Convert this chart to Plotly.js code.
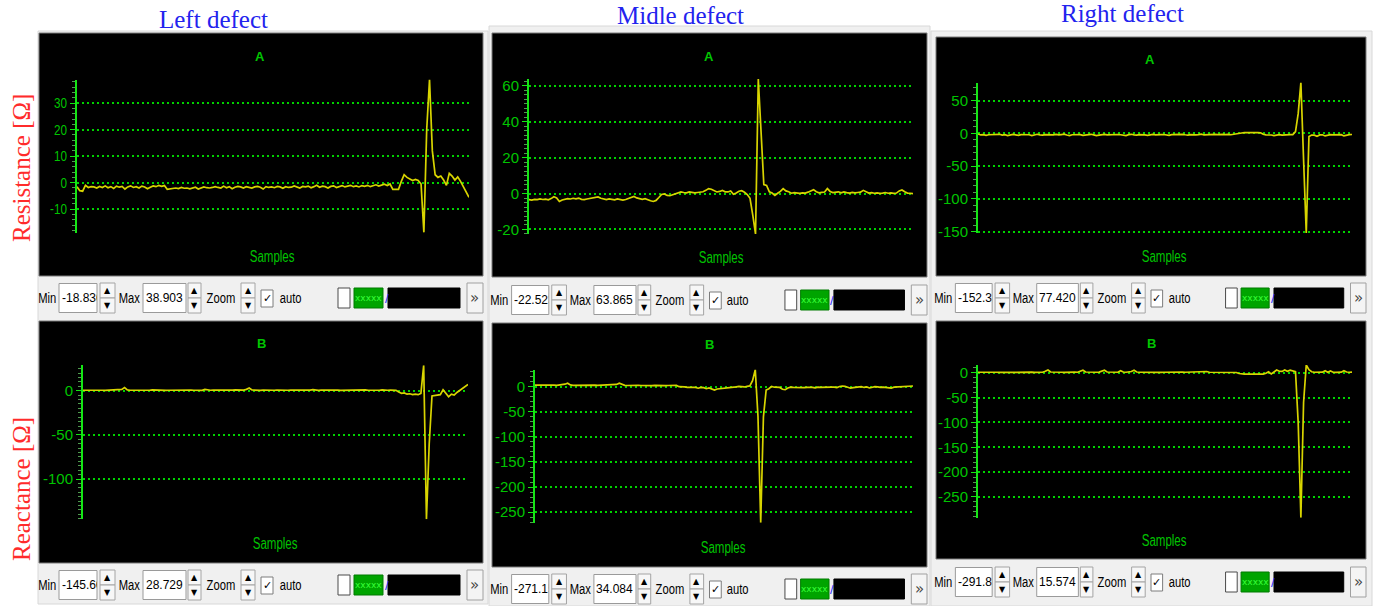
<!DOCTYPE html>
<html><head><meta charset="utf-8">
<script src="https://cdn.plot.ly/plotly-3.0.1.min.js"></script>
<style>html,body{margin:0;padding:0;background:#fff;}#chart{width:1380px;height:606px;}</style>
</head><body><div id="chart"></div>
<script>
// ---------------- data ----------------
const columnTitles = ['Left defect', 'Midle defect', 'Right defect'];
const rowTitles = ['Resistance [Ω]', 'Reactance [Ω]'];
const panelNames = ['A', 'B'];
const xLabel = 'Samples';
const controlLabels = ['Min', 'Max', 'Zoom', 'auto'];

const leftResistance = [
 -1.5,-3.0,-3.2,-1.0,-1.8,-1.5,-1.6,-2.0,-1.4,-1.8,
 -1.2,-1.9,-1.5,-2.2,-1.3,-1.7,-1.4,-2.4,-1.6,-1.2,
 -1.8,-1.5,-2.0,-1.3,-1.6,-2.3,-1.7,-1.2,-1.5,-1.0,
 -1.4,-1.1,-2.5,-2.4,-2.3,-2.0,-2.2,-1.8,-2.1,-2.0,
 -2.3,-2.0,-1.7,-2.4,-2.1,-1.6,-1.9,-2.0,-1.8,-1.5,
 -1.8,-2.0,-1.3,-1.9,-1.5,-2.3,-1.7,-1.4,-1.6,-2.0,
 -1.5,-1.7,-2.0,-1.6,-1.4,-1.7,-2.4,-1.5,-1.8,-1.6,
 -1.9,-1.4,-1.6,-2.1,-1.5,-1.8,-1.7,-1.2,-1.6,-2.0,
 -1.4,-1.6,-1.3,-1.9,-1.5,-1.0,-1.7,-1.3,-1.5,-2.0,
 -1.4,-1.2,-1.8,-1.5,-1.1,-1.6,-1.3,-1.0,-1.5,-1.2,
 -1.6,-1.1,-1.4,-1.0,-1.5,-1.2,-0.8,-1.3,-1.0,-0.6,
 -1.1,-0.5,-2.5,-2.5,-2.5,0.5,3.0,2.0,1.5,0.8,
 1.2,0.8,-0.5,-18.836,20.0,38.903,12.0,3.0,2.0,2.5,
 1.0,-1.0,3.5,2.5,1.0,2.2,0.5,-1.5,-3.5,-5.5
];
const leftReactance = [
 0.5,0.6,0.4,0.7,0.5,0.6,0.8,0.5,0.4,0.6,
 0.7,0.5,0.6,0.8,1.5,3.5,0.8,0.5,0.4,0.6,
 0.5,0.7,0.6,0.4,0.5,0.8,0.6,0.5,0.7,0.6,
 0.4,0.5,0.6,0.8,0.5,0.4,0.6,0.7,0.5,0.6,
 0.5,0.7,0.6,0.4,1.5,0.6,0.5,0.7,0.6,0.5,
 0.4,0.6,0.7,0.5,0.6,0.8,0.5,0.6,0.7,1.5,
 3.0,0.8,0.5,0.6,0.4,0.7,0.5,0.6,0.8,0.5,
 0.6,0.4,0.7,0.6,0.5,0.6,0.8,0.5,0.4,0.6,
 0.7,0.5,0.6,1.2,0.5,0.4,0.6,0.7,0.5,0.6,
 0.5,0.7,0.6,0.4,0.5,0.8,0.6,0.5,0.7,0.6,
 0.5,0.6,0.8,0.5,0.4,0.6,0.7,0.5,1.0,0.6,
 0.5,0.7,0.6,0.4,-1.5,-3.0,-2.5,-4.0,-3.5,-4.5,
 -4.0,-4.5,-3.0,28.729,-145.6,-60.0,-6.0,-5.5,-5.0,-4.5,
 1.0,-3.0,-7.0,-4.0,-5.0,-2.0,0.0,2.5,5.0,7.0
];
const midResistance = [
 -3.3,-3.6,-3.2,-3.4,-3.0,-3.3,-3.1,-3.5,-2.8,-1.8,
 -2.4,-4.4,-3.6,-3.2,-2.8,-3.0,-2.6,-2.9,-2.5,-3.2,
 -3.4,-3.0,-2.8,-2.4,-2.0,-1.9,-2.6,-3.0,-3.4,-3.0,
 -3.2,-3.5,-3.0,-3.2,-3.6,-3.3,-2.8,-2.2,-1.6,-2.4,
 -3.0,-3.2,-2.8,-3.5,-4.0,-4.4,-3.8,-2.2,-0.5,-0.2,
 -1.0,-1.2,-0.6,-0.4,0.2,0.9,0.6,0.4,0.9,0.5,
 0.4,0.6,0.8,1.0,1.8,2.8,2.4,1.6,0.9,1.2,
 1.8,1.0,0.9,1.5,-0.4,0.3,1.3,1.6,0.8,-0.5,
 -2.6,-12.0,-22.523,63.865,30.0,5.0,4.5,1.0,0.3,-1.0,
 0.2,1.2,2.8,1.5,1.0,0.2,0.5,0.3,0.1,0.4,
 0.3,0.8,1.4,2.2,1.0,0.4,0.7,0.9,2.8,1.2,
 0.6,0.8,1.0,0.4,0.9,0.5,0.3,0.7,0.4,0.6,
 0.8,1.8,0.9,0.3,0.5,0.2,0.4,0.1,0.3,0.6,
 0.2,0.4,0.1,0.3,1.5,2.0,1.0,0.3,0.2,0.0
];
const midReactance = [
 3.0,3.2,2.8,3.1,3.3,2.9,3.0,3.2,2.7,3.0,
 3.5,5.0,7.0,3.5,2.8,3.0,2.6,2.9,3.1,2.7,
 2.5,2.9,3.0,2.6,2.8,3.1,2.7,2.5,2.9,3.0,
 4.5,7.0,4.0,2.6,2.4,2.8,2.5,2.2,2.6,2.4,
 2.0,2.4,2.6,2.2,2.5,2.1,2.3,2.6,2.2,2.4,
 2.0,2.3,2.5,0.0,-1.0,-0.5,-1.2,-0.8,-1.0,-1.5,
 -3.0,-1.5,-2.0,-4.0,-2.5,-4.0,-6.6,-4.5,-4.0,-3.5,
 -4.0,-3.0,-2.0,-1.5,-0.5,0.5,0.2,-0.5,0.8,1.5,
 12.0,34.084,-60.0,-271.15,-60.0,-6.6,-4.0,0.5,-1.0,-2.0,
 -1.5,-5.0,-6.0,-2.5,-1.0,-1.5,-2.0,-1.0,-1.5,-2.0,
 -1.2,-0.8,-1.5,-2.5,-1.0,-1.5,-1.0,-0.5,-1.2,-0.8,
 -1.0,-1.6,0.5,1.4,0.8,-0.5,-3.0,-2.0,-1.0,-0.5,
 0.0,-1.5,-0.5,-2.5,-1.0,0.0,-0.5,-1.5,-0.8,-1.2,
 -2.0,-3.0,-1.0,-0.5,-1.5,-1.0,0.0,0.5,1.0,1.4
];
const rightResistance = [
 -1.0,-2.5,-2.0,-3.0,-2.2,-1.8,-2.5,-2.0,-1.5,-2.8,
 -2.0,-3.5,-2.2,-1.6,-2.4,-3.2,-2.0,-1.8,-2.6,-2.2,
 -3.4,-2.0,-1.5,-2.3,-2.8,-1.9,-2.2,-3.0,-2.4,-1.7,
 -2.5,-2.0,-1.4,-2.6,-3.6,-2.2,-1.8,-2.4,-2.0,-3.2,
 -2.6,-2.0,-1.5,-2.3,-3.4,-2.8,-2.0,-1.6,-2.5,-2.2,
 -3.0,-2.4,-1.8,-2.2,-2.6,-3.4,-2.0,-1.5,-2.4,-2.8,
 -2.0,-1.7,-2.5,-3.0,-2.2,-1.6,-2.3,-2.7,-2.0,-1.8,
 -2.6,-3.2,-2.1,-1.7,-2.4,-2.0,-1.5,-2.2,-2.8,-2.0,
 -1.6,-2.3,-2.0,-1.4,-2.5,-2.1,-1.8,-2.2,-1.5,-2.0,
 -2.4,-1.7,-2.0,-1.5,-2.2,-1.8,-1.2,-0.5,0.5,1.0,
 1.2,1.0,1.1,1.0,1.2,0.8,-1.5,-2.4,-2.0,-2.6,
 -3.5,-2.2,-2.0,-2.8,-2.4,-1.5,-2.0,-2.0,2.5,30.0,
 77.42,-40.0,-152.35,-5.0,-2.6,-2.8,-4.5,-2.5,-2.2,-4.0,
 -2.4,-2.0,-2.5,-2.2,-2.8,-2.0,-4.0,-2.5,-2.0,-1.8
];
const rightReactance = [
 1.0,1.2,0.8,1.0,1.1,0.9,1.2,1.0,0.8,1.1,
 1.0,0.9,1.2,1.0,0.8,1.1,1.0,1.2,0.9,1.0,
 1.1,0.8,1.0,1.2,1.0,3.0,5.4,1.5,1.0,0.9,
 1.1,1.0,0.8,1.2,1.0,0.9,1.1,1.0,3.0,5.0,
 1.5,1.0,0.8,1.1,1.0,1.2,2.5,5.0,1.5,1.0,
 0.9,1.2,1.0,4.0,1.5,1.0,1.2,2.5,5.0,1.5,
 1.0,0.8,1.1,1.0,1.2,0.9,1.0,1.1,0.8,1.0,
 1.2,1.0,0.9,1.1,1.0,0.8,1.2,1.0,1.1,0.9,
 1.0,1.2,0.8,1.0,1.1,2.5,1.0,0.9,1.2,1.0,
 0.8,1.1,1.0,1.2,0.9,1.0,0.5,-1.5,-2.7,-2.7,
 -2.7,-2.7,-2.7,-2.7,-2.7,-2.7,-2.7,-1.0,2.0,-2.6,
 1.0,5.4,3.0,2.7,5.4,3.0,5.0,3.0,2.0,-100.0,
 -291.8,-60.0,15.574,6.0,2.0,1.0,1.5,1.0,1.2,4.0,
 1.0,3.5,1.0,0.8,1.0,1.2,4.0,1.5,1.0,1.2
];

// Min / Max readouts shown under each panel (also the axis ranges)
const leftResistanceMinMax  = [-18.836, 38.903];
const leftReactanceMinMax   = [-145.60, 28.729];
const midResistanceMinMax   = [-22.523, 63.865];
const midReactanceMinMax    = [-271.15, 34.084];
const rightResistanceMinMax = [-152.35, 77.420];
const rightReactanceMinMax  = [-291.80, 15.574];
const leftResistanceReadout  = ['-18.836', '38.903'];
const leftReactanceReadout   = ['-145.60', '28.729'];
const midResistanceReadout   = ['-22.523', '63.865'];
const midReactanceReadout    = ['-271.15', '34.084'];
const rightResistanceReadout = ['-152.35', '77.420'];
const rightReactanceReadout  = ['-291.80', '15.574'];

// tick values / labels
const leftResistanceTicks  = [-10, 0, 10, 20, 30];
const leftResistanceLabels = ['-10', '0', '10', '20', '30'];
const leftReactanceTicks   = [-100, -50, 0];
const leftReactanceLabels  = ['-100', '-50', '0'];
const midResistanceTicks   = [-20, 0, 20, 40, 60];
const midResistanceLabels  = ['-20', '0', '20', '40', '60'];
const midReactanceTicks    = [-250, -200, -150, -100, -50, 0];
const midReactanceLabels   = ['-250', '-200', '-150', '-100', '-50', '0'];
const rightResistanceTicks  = [-150, -100, -50, 0, 50];
const rightResistanceLabels = ['-150', '-100', '-50', '0', '50'];
const rightReactanceTicks   = [-250, -200, -150, -100, -50, 0];
const rightReactanceLabels  = ['-250', '-200', '-150', '-100', '-50', '0'];

// ---------------- drawing ----------------
const W = 1380, H = 606;
const X = p => p / W, Y = p => 1 - p / H;
const SANS = 'Liberation Sans, Arial, sans-serif';
const SYM = 'DejaVu Sans, sans-serif';
const SERIF = 'Liberation Serif, Times New Roman, serif';
const GREEN_TXT = '#00c400', AXIS_GREEN = '#14e614', GRID_GREEN = '#00d200', TRACE = '#d8d400';

const panels = [
  {y: leftResistance, mm: leftResistanceMinMax, ro: leftResistanceReadout, tv: leftResistanceTicks, tt: leftResistanceLabels, name: panelNames[0],
   box: [39, 483, 33, 276], plot: [77, 469, 79.6, 232.6], nameXY: [260, 57], sampXY: [272, 256], sc: 298, minor: 2},
  {y: leftReactance, mm: leftReactanceMinMax, ro: leftReactanceReadout, tv: leftReactanceTicks, tt: leftReactanceLabels, name: panelNames[1],
   box: [39, 483, 321, 563], plot: [83, 468, 365.3, 519.3], nameXY: [261, 343], sampXY: [275, 543], sc: 585, minor: 5},
  {y: midResistance, mm: midResistanceMinMax, ro: midResistanceReadout, tv: midResistanceTicks, tt: midResistanceLabels, name: panelNames[0],
   box: [492, 927, 33, 277], plot: [529, 913, 79.0, 234.0], nameXY: [709, 57], sampXY: [721, 257], sc: 300, minor: 2.5},
  {y: midReactance, mm: midReactanceMinMax, ro: midReactanceReadout, tv: midReactanceTicks, tt: midReactanceLabels, name: panelNames[1],
   box: [492, 927, 323, 567], plot: [535, 913, 369.6, 522.8], nameXY: [709, 345], sampXY: [723, 547], sc: 589, minor: 10},
  {y: rightResistance, mm: rightResistanceMinMax, ro: rightResistanceReadout, tv: rightResistanceTicks, tt: rightResistanceLabels, name: panelNames[0],
   box: [936, 1366, 37, 276], plot: [978, 1352, 82.6, 233.1], nameXY: [1150, 59], sampXY: [1164, 256], sc: 298, minor: 10},
  {y: rightReactance, mm: rightReactanceMinMax, ro: rightReactanceReadout, tv: rightReactanceTicks, tt: rightReactanceLabels, name: panelNames[1],
   box: [936, 1366, 321, 559], plot: [978, 1352, 365, 517.7], nameXY: [1151, 343], sampXY: [1164, 540], sc: 582, minor: 10}
];

const shapes = [], annotations = [], traces = [];
const layout = {width: W, height: H, margin: {l: 0, r: 0, t: 0, b: 0}, paper_bgcolor: '#ffffff',
  plot_bgcolor: '#000000', showlegend: false, shapes: shapes, annotations: annotations};

function rect(x0, x1, y0, y1, fill, line, lw) {
  shapes.push({type: 'rect', xref: 'paper', yref: 'paper', layer: 'below',
    x0: X(x0), x1: X(x1), y0: Y(y1), y1: Y(y0), fillcolor: fill,
    line: {color: line || fill, width: lw === undefined ? 1 : lw}});
}
function txt(x, y, t, size, color, opts, family) {
  annotations.push(Object.assign({xref: 'paper', yref: 'paper', x: X(x), y: Y(y), text: t, showarrow: false,
    xanchor: 'center', yanchor: 'middle', font: {family: family || SANS, size: size, color: color}}, opts || {}));
}
function spinner(x0, x1, c) {
  rect(x0, x1, c - 15, c, '#f7f7f7', '#a4a4a4', 1);
  rect(x0, x1, c, c + 15, '#f7f7f7', '#a4a4a4', 1);
  txt((x0 + x1) / 2, c - 7.5, '▲', 8, '#000', null, SYM);
  txt((x0 + x1) / 2, c + 7.5, '▼', 8, '#000', null, SYM);
}

// grey window frames of the three columns
rect(38, 488, 31, 604, '#f0f0f0', '#d8d8d8', 1);
rect(489, 930, 26, 606, '#f0f0f0', '#d8d8d8', 1);
rect(931, 1372, 31, 606, '#f0f0f0', '#d8d8d8', 1);

const xIdx = leftResistance.map((_, i) => i);

panels.forEach((p, k) => {
  const s = k === 0 ? '' : String(k + 1);
  rect(p.box[0], p.box[1], p.box[2], p.box[3], '#000000', '#7a7a7a', 1);
  layout['xaxis' + s] = {domain: [X(p.plot[0]), X(p.plot[1])], range: [0, xIdx.length - 1], visible: false,
    anchor: 'y' + s, fixedrange: true};
  layout['yaxis' + s] = {domain: [Y(p.plot[3]), Y(p.plot[2])], range: p.mm, anchor: 'x' + s, fixedrange: true,
    showline: true, linecolor: AXIS_GREEN, linewidth: 2, ticks: 'outside', ticklen: 5, tickwidth: 1, tickcolor: AXIS_GREEN,
    tickmode: 'array', tickvals: p.tv, ticktext: p.tt, tickfont: {family: SANS, size: 15, color: GREEN_TXT},
    showgrid: true, gridcolor: GRID_GREEN, gridwidth: 2, griddash: '2px,3px', zeroline: false,
    minor: {ticks: 'outside', ticklen: 3, tickwidth: 1, tickcolor: '#4f9a4f', dtick: p.minor, tick0: 0, showgrid: false}};
  traces.push({x: xIdx, y: p.y, xaxis: 'x' + s, yaxis: 'y' + s, type: 'scatter', mode: 'lines',
    line: {color: TRACE, width: 1.7}, hoverinfo: 'skip'});
  txt(p.nameXY[0], p.nameXY[1], '<b>' + p.name + '</b>', 13, GREEN_TXT);
  txt(p.sampXY[0], p.sampXY[1], xLabel, 16, GREEN_TXT);

  // control strip
  const bx0 = p.box[0], sc = (p.box[1] - p.box[0]) / 444, P = o => bx0 + o * sc, c = p.sc;
  const mid = (a, b) => (P(a) + P(b)) / 2;
  txt(mid(0, 16), c, controlLabels[0], 14, '#000');
  rect(P(20), P(58), c - 14.5, c + 14.5, '#ffffff', '#9a9a9a', 1);
  txt(P(20) + 1.5, c, p.ro[0], 12, '#000', {xanchor: 'left', align: 'left', width: P(58) - P(20) - 3, borderpad: 0});
  spinner(P(61), P(76), c);
  txt(mid(80, 100), c, controlLabels[1], 14, '#000');
  rect(P(104), P(147), c - 14.5, c + 14.5, '#ffffff', '#9a9a9a', 1);
  txt(P(104) + 1.5, c, p.ro[1], 12, '#000', {xanchor: 'left', align: 'left', width: P(147) - P(104) - 3, borderpad: 0});
  spinner(P(149), P(162), c);
  txt(mid(168, 196), c, controlLabels[2], 14, '#000');
  spinner(P(202), P(216), c);
  rect(P(222), P(234), c - 8, c + 9, '#ffffff', '#7c7c7c', 1);
  txt(mid(222, 234), c + 0.5, '✓', 11, '#000', null, SYM);
  txt(mid(241, 261), c, controlLabels[3], 14, '#000');
  rect(P(299), P(311), c - 10, c + 10, '#ffffff', '#4a4a4a', 1);
  rect(P(315), P(344), c - 10, c + 10, '#00a400', '#007a00', 1);
  txt(mid(315, 344), c, 'xxxxx', 9, '#38ff38', null, 'DejaVu Sans, sans-serif');
  txt(P(347.5), c, '/', 13, '#2828ff');
  rect(P(349), P(421), c - 10, c + 10, '#000000', '#000000', 1);
  rect(P(428), P(444), c - 15, c + 15, '#f4f4f4', '#a0a0a0', 1);
  txt(mid(428, 444), c, '»', 15, '#444', null, SYM);
});

// column and row titles
txt(213, 20, columnTitles[0], 25, '#2323ee', null, SERIF);
txt(680, 15, columnTitles[1], 25, '#2323ee', null, SERIF);
txt(1122, 14, columnTitles[2], 25, '#2323ee', null, SERIF);
txt(21, 168, rowTitles[0], 25, '#ff2b2b', {textangle: -90}, SERIF);
txt(21, 489, rowTitles[1], 25, '#ff2b2b', {textangle: -90}, SERIF);

// squeeze glyphs horizontally to mimic the narrow UI font of the screenshot
const squeezeFactor = {Samples: 0.72, Min: 0.8, Max: 0.8, Zoom: 0.8, auto: 0.8};
function squeeze(el, f) {
  const L = el.getComputedTextLength();
  if (L > 0) {
    el.setAttribute('textLength', (L * f).toFixed(2));
    el.setAttribute('lengthAdjust', 'spacingAndGlyphs');
  }
}
Plotly.newPlot('chart', traces, layout, {displayModeBar: false, staticPlot: true}).then(() => {
  document.querySelectorAll('.annotation-text').forEach(t => {
    const f = squeezeFactor[t.textContent];
    if (f) squeeze(t, f);
  });
  document.querySelectorAll('.ytick text').forEach(t => squeeze(t, 0.78));
});
</script>
</body></html>
